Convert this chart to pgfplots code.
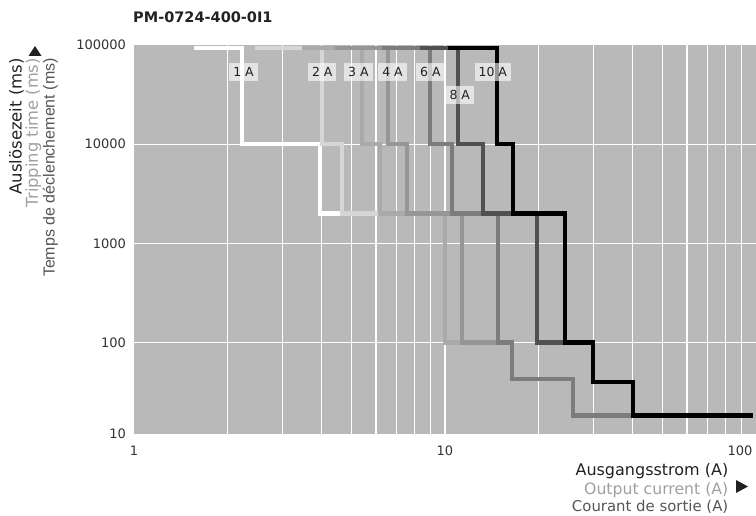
\documentclass[border=0pt]{standalone}
\usepackage{pgfplots}
\pgfplotsset{compat=1.18}
\usepackage{fontspec}
\setmainfont{DejaVu Sans}
\newfontfamily\libsans{Liberation Sans}
\definecolor{bgc}{RGB}{185,185,185}
\definecolor{c2}{RGB}{214,214,214}
\definecolor{c3}{RGB}{170,170,170}
\definecolor{c4}{RGB}{150,150,150}
\definecolor{c6}{RGB}{124,124,124}
\definecolor{c8}{RGB}{80,80,80}
\definecolor{txt}{RGB}{34,34,34}
\definecolor{tk}{RGB}{51,51,51}
\definecolor{tlight}{RGB}{160,160,160}
\definecolor{tdark}{RGB}{85,85,85}
\tikzset{lbl/.style={fill=white, fill opacity=0.6, text opacity=1, text=txt,
    font=\fontsize{12.5}{14}\selectfont, inner xsep=4pt, inner ysep=4.2pt,
    text height=9.2pt, text depth=0pt}}
\begin{document}
\begin{tikzpicture}[x=1pt,y=1pt]
\useasboundingbox (0,0) rectangle (756,516);
\begin{axis}[
  at={(134pt,82pt)}, anchor=south west,
  scale only axis, width=622pt, height=389pt,
  xmode=log, ymode=log,
  xmin=1, xmax=100, ymin=12, ymax=100000,
  axis background/.style={fill=bgc},
  axis line style={draw=none},
  major tick length=0pt, minor tick length=0pt,
  tick style={draw=none},
  xtick={1,10}, xticklabels={1,10},
  extra x ticks={100}, extra x tick labels={100},
  extra x tick style={grid=none, xticklabel style={anchor=north east}},
  minor xtick={2,3,4,5,6,7,8,9,10,20,30,40,50,60,70,80,90},
  ytick={12,100,1000,10000,100000},
  yticklabels={10,100,1000,10000,100000},
  minor ytick={100,1000,10000},
  xmajorgrids=false, ymajorgrids=false,
  xminorgrids=true, yminorgrids=true,
  minor grid style={white, line width=1.2pt},
  /pgf/number format/assume math mode=true,
  ticklabel style={font=\fontsize{13}{15}\selectfont, text=tk},
  xticklabel style={yshift=-8.5pt},
  yticklabel style={xshift=-4.5pt},
  every axis plot/.append style={line width=4.5pt, line join=miter, line cap=butt},
]
% 1 A
\addplot[white] coordinates {(1.56,93000) (2.225,93000) (2.225,10000) (3.96,10000) (3.96,2000) (4.66,2000)};
% 2 A
\addplot[c2] coordinates {(2.45,93000) (4.02,93000) (4.02,10000) (4.66,10000) (4.66,2000) (6.2,2000)};
% 3 A
\addplot[c3] coordinates {(3.47,93000) (5.41,93000) (5.41,10000) (6.18,10000) (6.18,2000) (10.0,2000) (10.0,100) (11.34,100)};
% 4 A
\addplot[c4] coordinates {(4.43,93000) (6.56,93000) (6.56,10000) (7.55,10000) (7.55,2000) (11.34,2000) (11.34,100) (14.8,100)};
% 6 A
\addplot[c6] coordinates {(6.27,93000) (8.95,93000) (8.95,10000) (10.53,10000) (10.53,2000) (14.8,2000) (14.8,100) (16.43,100) (16.43,43) (25.8,43) (25.8,18.5) (40.2,18.5)};
% 8 A
\addplot[c8] coordinates {(8.31,93000) (11.0,93000) (11.0,10000) (13.25,10000) (13.25,2000) (19.76,2000) (19.76,100) (24.3,100)};
% 10 A
\addplot[black] coordinates {(10.2,93000) (14.7,93000) (14.7,10000) (16.55,10000) (16.55,2000) (24.3,2000) (24.3,100) (29.9,100) (29.9,40) (40.2,40) (40.2,18.5) (97.8,18.5)};
\node[lbl] at (axis cs:2.25,53500) {1 A};
\node[lbl] at (axis cs:4.03,53500) {2 A};
\node[lbl] at (axis cs:5.27,53500) {3 A};
\node[lbl] at (axis cs:6.78,53500) {4 A};
\node[lbl] at (axis cs:8.98,53500) {6 A};
\node[lbl] at (axis cs:11.16,31300) {8 A};
\node[lbl] at (axis cs:14.25,53500) {10 A};
\end{axis}
% title
\node[anchor=base west, inner sep=0pt, text=txt, font=\bfseries\fontsize{14.5}{16}\selectfont] at (133,493.3) {PM-0724-400-0I1};
% y-axis title
\node[rotate=90, anchor=base east, inner sep=0pt, text=txt, font=\fontsize{16.5}{18}\selectfont] at (21.5,458) {Auslösezeit (ms)};
\node[rotate=90, anchor=base east, inner sep=0pt, text=tlight, font=\fontsize{16.3}{18}\selectfont] at (38,458) {Tripping time (ms)};
\node[rotate=90, anchor=base east, inner sep=0pt, text=tdark, font=\libsans\fontsize{16}{18}\selectfont] at (54.5,458) {Temps de déclenchement (ms)};
\fill[txt] (28.5,460) -- (41.5,460) -- (35,470) -- cycle;
% x-axis title
\node[anchor=base east, inner sep=0pt, text=txt, font=\fontsize{16}{18}\selectfont] at (728.5,40) {Ausgangsstrom (A)};
\node[anchor=base east, inner sep=0pt, text=tlight, font=\fontsize{15.7}{18}\selectfont] at (728.5,21.7) {Output current (A)};
\node[anchor=base east, inner sep=0pt, text=tdark, font=\fontsize{14.9}{18}\selectfont] at (728.5,4.3) {Courant de sortie (A)};
\fill[txt] (736,36) -- (736,23) -- (748,29.5) -- cycle;
\end{tikzpicture}
\end{document}
